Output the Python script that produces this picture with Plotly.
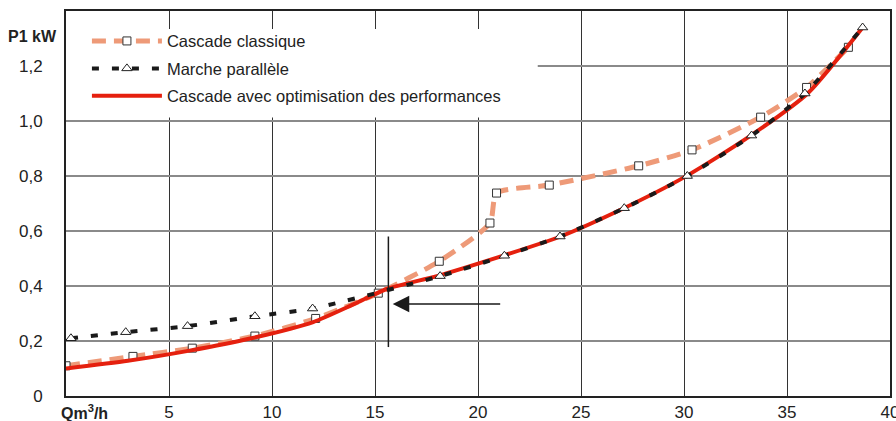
import plotly.graph_objects as go

# Data
cc_x = [0, 3.25, 6.13, 9.17, 12.12, 15.16, 18.12, 20.58, 20.9, 23.46, 27.8, 30.39, 33.72, 35.95, 37.98]
cc_y = [0.11, 0.144, 0.174, 0.218, 0.282, 0.374, 0.49, 0.629, 0.738, 0.767, 0.837, 0.895, 1.014, 1.122, 1.268]

mp_x = [0.24, 2.9, 5.9, 9.17, 11.97, 18.16, 21.28, 23.98, 27.1, 30.16, 33.28, 35.87, 38.67]
mp_y = [0.21, 0.232, 0.254, 0.29, 0.318, 0.436, 0.51, 0.58, 0.683, 0.80, 0.947, 1.10, 1.34]

opt_x = [0, 3, 6, 9, 12, 14, 15.6, 18, 21, 24, 27, 30, 33, 36, 38.67]
opt_y = [0.10, 0.128, 0.165, 0.21, 0.269, 0.335, 0.39, 0.436, 0.505, 0.58, 0.68, 0.795, 0.935, 1.10, 1.34]

y_ticks = [0, 0.2, 0.4, 0.6, 0.8, 1.0, 1.2]
y_labels = ["0", "0,2", "0,4", "0,6", "0,8", "1,0", "1,2"]
x_ticks = [5, 10, 15, 20, 25, 30, 35, 40]
x_labels = ["5", "10", "15", "20", "25", "30", "35", "40"]

names = ["Cascade classique", "Marche parallèle", "Cascade avec optimisation des performances"]

FONT = "Liberation Sans, Arial, Helvetica, sans-serif"
SALMON = "#EE9A78"
RED = "#E5200E"
BLACK = "#1a1a1a"

fig = go.Figure()

fig.add_trace(go.Scatter(
    x=cc_x, y=cc_y, name=names[0], mode="lines+markers",
    line=dict(color=SALMON, width=5, dash="14px,8px", shape="spline", smoothing=0.6),
    marker=dict(symbol="square", size=8, color="white", line=dict(color="#333", width=1)),
    legendrank=1, legendgroup="a",
))
fig.add_trace(go.Scatter(
    x=opt_x, y=opt_y, name=names[2], mode="lines",
    line=dict(color=RED, width=4, shape="spline", smoothing=0.6),
    legendrank=3, legendgroup="c",
))
fig.add_trace(go.Scatter(
    x=mp_x, y=mp_y, name=names[1], mode="lines+markers",
    line=dict(color=BLACK, width=4, dash="7px,13px", shape="spline", smoothing=0.6),
    marker=dict(symbol="triangle-up", size=9, color="white", line=dict(color="#222", width=1)),
    legendrank=2, legendgroup="b",
))

# white area behind the legend (hides gridlines)
fig.add_shape(type="rect", xref="x", yref="y", x0=0, x1=22.9, y0=1.013, y1=1.335,
              fillcolor="white", line=dict(width=0), layer="between")

# vertical marker line
fig.add_shape(type="line", xref="x", yref="y", x0=15.65, x1=15.65, y0=0.178, y1=0.58,
              line=dict(color=BLACK, width=1.5))

# arrow
fig.add_annotation(x=15.86, y=0.335, ax=21.15, ay=0.335, xref="x", yref="y",
                   axref="x", ayref="y", text="", showarrow=True,
                   arrowhead=2, arrowsize=2.2, arrowwidth=1.5, arrowcolor=BLACK)

# axis titles
fig.add_annotation(x=-0.0407, y=0.935, xref="paper", yref="paper", text="<b>P1 kW</b>",
                   xanchor="center", yanchor="middle",
                   showarrow=False, font=dict(family=FONT, size=16, color="#222"))
fig.add_annotation(x=0.022, y=-0.042, xref="paper", yref="paper", text="<b>Qm<sup>3</sup>/h</b>",
                   xanchor="center", yanchor="middle",
                   showarrow=False, font=dict(family=FONT, size=16, color="#222"))

fig.update_layout(
    width=896, height=421,
    margin=dict(l=66, r=6, t=11, b=25, autoexpand=False),
    paper_bgcolor="white", plot_bgcolor="white",
    font=dict(family=FONT, size=17, color="#222"),
    showlegend=True,
    legend=dict(
        x=0.0254, y=0.967, xanchor="left", yanchor="top",
        bgcolor="rgba(0,0,0,0)", borderwidth=0,
        font=dict(family=FONT, size=16.5, color="#222"),
        traceorder="grouped", tracegroupgap=3, itemwidth=70,
    ),
    xaxis=dict(
        range=[0, 40], tickvals=x_ticks, ticktext=x_labels,
        showgrid=True, gridcolor="#333", gridwidth=1,
        showline=True, linecolor="#222", linewidth=2, mirror=True,
        ticks="", zeroline=False, tickfont=dict(size=17), automargin=False,
        ticklabeloverflow="allow",
    ),
    yaxis=dict(
        range=[0, 1.4], tickvals=y_ticks, ticktext=y_labels,
        showgrid=True, gridcolor="#8a8a8a", gridwidth=1.5,
        showline=True, linecolor="#222", linewidth=2, mirror=True,
        ticks="", zeroline=False, tickfont=dict(size=17), automargin=False,
        ticklabelstandoff=18,
    ),
)

fig.write_html(
    "out.html",
    config={"displayModeBar": False},
    post_script="document.body.style.margin='0';document.body.style.overflow='hidden';",
)
